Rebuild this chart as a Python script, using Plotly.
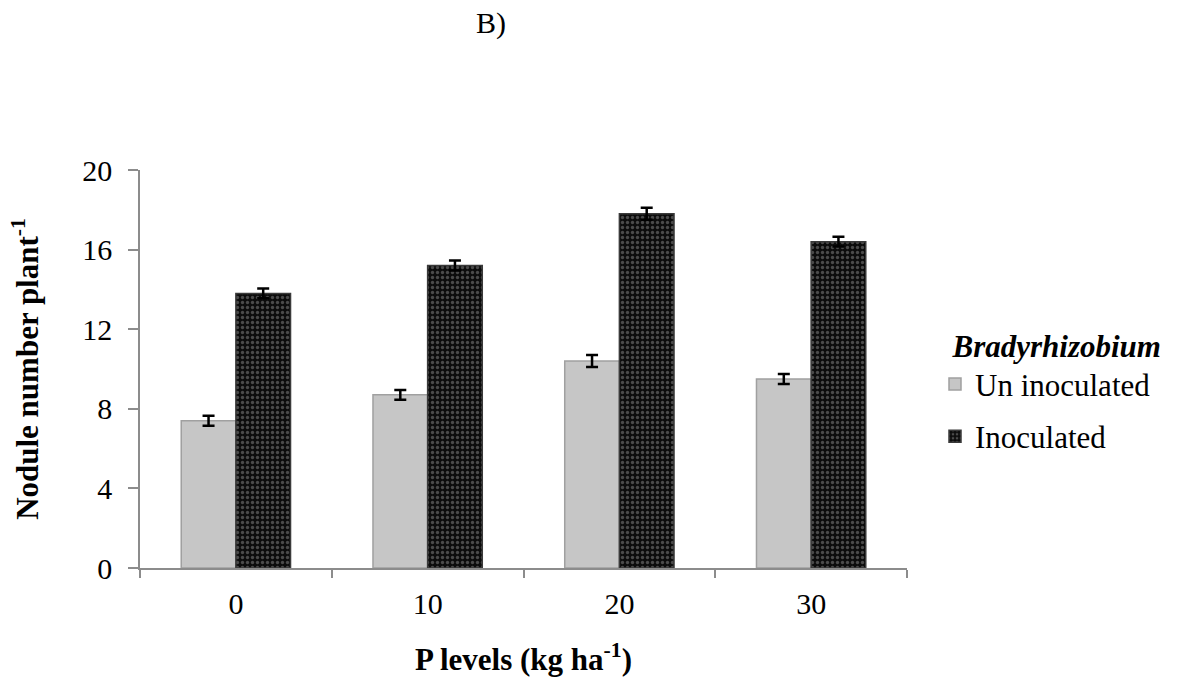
import plotly.graph_objects as go

p_levels = ["0", "10", "20", "30"]
uninoculated = [7.4, 8.7, 10.4, 9.5]
inoculated = [13.8, 15.2, 17.8, 16.4]
err_un = [0.25, 0.25, 0.3, 0.25]
err_in = [0.25, 0.25, 0.3, 0.25]

FONT = "Liberation Serif"
FS = 30

fig = go.Figure()
fig.add_trace(go.Bar(
    x=p_levels, y=uninoculated, name="Un inoculated", legendgroup="a",
    marker=dict(color="#c6c6c6", line=dict(color="#a0a0a0", width=1.5)),
    error_y=dict(type="data", array=err_un, color="black", thickness=2.5, width=6),
))
fig.add_trace(go.Bar(
    x=p_levels, y=inoculated, name="Inoculated", legendgroup="b",
    marker=dict(color="#111111", line=dict(color="#3a3a3a", width=1.5),
                pattern=dict(shape=".", fgcolor="#8a8a8a", bgcolor="#0c0c0c",
                             size=5, solidity=0.35)),
    error_y=dict(type="data", array=err_in, color="black", thickness=2.5, width=6),
))

PW = 1183 - 140 - 276
PH = 679 - 170 - 111

fig.update_layout(
    width=1183, height=679,
    margin=dict(l=140, r=276, t=170, b=111, autoexpand=False),
    paper_bgcolor="white", plot_bgcolor="white",
    font=dict(family=FONT, size=FS, color="black"),
    barmode="group", bargap=0.43, bargroupgap=0,
    showlegend=True,
    legend=dict(
        x=(935 - 140) / PW, y=1 - (317 - 170) / PH, xanchor="left", yanchor="top",
        title=dict(text="&nbsp;&nbsp;<b><i>Bradyrhizobium</i></b>", font=dict(size=31, family=FONT), side="top"),
        font=dict(size=31, family=FONT),
        tracegroupgap=9, itemwidth=30,
        bgcolor="rgba(0,0,0,0)",
    ),
    annotations=[dict(text="B)", x=(491 - 140) / PW, y=1 + (170 - 23) / PH,
                      xref="paper", yref="paper", showarrow=False,
                      xanchor="center", yanchor="middle",
                      font=dict(size=30, family=FONT))],
)

fig.update_xaxes(
    automargin=False,
    showline=True, linecolor="#8c8c8c", linewidth=1.5,
    ticks="outside", tickson="boundaries", ticklen=8, tickcolor="#8c8c8c", tickwidth=1.5,
    tickfont=dict(size=FS, family=FONT), ticklabelstandoff=8,
    title=dict(text="<b>P levels (kg ha<sup>-1</sup>)</b>", font=dict(size=31, family=FONT), standoff=30),
    showgrid=False,
)
fig.update_yaxes(
    automargin=False,
    range=[0, 20], dtick=4, showline=True, linecolor="#8c8c8c", linewidth=1.5,
    ticks="outside", ticklen=10, tickcolor="#8c8c8c", tickwidth=1.5,
    tickfont=dict(size=FS, family=FONT), ticklabelstandoff=10,
    title=dict(text="<b>Nodule number plant<sup>-1</sup></b>", font=dict(size=31, family=FONT), standoff=34),
    showgrid=False, zeroline=False,
)

fig.write_html("out.html")
